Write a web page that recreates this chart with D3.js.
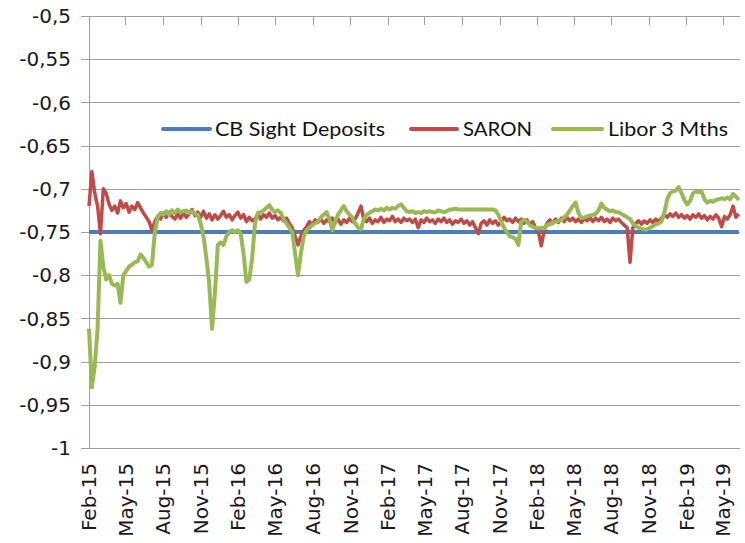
<!DOCTYPE html>
<html lang="en">
<head>
<meta charset="UTF-8">
<title>CHF money market rates</title>
<style>
    body { margin: 0; background: #fff; }
    .grid line { stroke: #a0a0a0; stroke-width: 1.3; shape-rendering: crispEdges; }
    .axis text { font: 20px "DejaVu Sans", sans-serif; fill: #1a1a1a; }
    .legend text { font: 20px Lato, sans-serif; fill: #111; }
    .series { fill: none; stroke-linejoin: round; }
</style>
</head>
<body>
<svg class="chart" width="745" height="543"></svg>
<script src="https://cdn.jsdelivr.net/npm/d3@7"></script>
<script>

// weekly observations, first one on this date
var firstWeek = "2015-02-01";

var xTickLabels = ["Feb-15", "May-15", "Aug-15", "Nov-15", "Feb-16", "May-16", "Aug-16", "Nov-16", "Feb-17",
    "May-17", "Aug-17", "Nov-17", "Feb-18", "May-18", "Aug-18", "Nov-18", "Feb-19", "May-19"];

var yTickLabels = ["-0,5", "-0,55", "-0,6", "-0,65", "-0,7", "-0,75", "-0,8", "-0,85", "-0,9", "-0,95", "-1"];

var seriesNames = ["CB Sight Deposits", "SARON", "Libor 3 Mths"];

// sight deposit rate is flat over the whole period
var sightDates = ["2015-02-01", "2019-06-09"];
var sightDeposits = [-0.75, -0.75];

var saron = [
    -0.72, -0.68, -0.705, -0.72, -0.752, -0.70, -0.705, -0.718, -0.725, -0.72, -0.728, -0.714, -0.722,
    -0.717, -0.727, -0.72, -0.724, -0.716, -0.722, -0.728, -0.733, -0.738, -0.748, -0.738, -0.732, -0.735,
    -0.728, -0.733, -0.727, -0.732, -0.735, -0.729, -0.734, -0.728, -0.733, -0.729, -0.724, -0.731, -0.727,
    -0.733, -0.726, -0.734, -0.729, -0.736, -0.73, -0.735, -0.731, -0.726, -0.733, -0.73, -0.736, -0.731,
    -0.727, -0.734, -0.73, -0.738, -0.733, -0.737, -0.735, -0.729, -0.735, -0.73, -0.733, -0.728, -0.734,
    -0.731, -0.736, -0.733, -0.737, -0.734, -0.74, -0.745, -0.755, -0.765, -0.755, -0.748, -0.744, -0.738,
    -0.742, -0.736, -0.739, -0.735, -0.74, -0.736, -0.738, -0.734, -0.739, -0.735, -0.741, -0.736, -0.739,
    -0.734, -0.738, -0.735, -0.728, -0.72, -0.735, -0.738, -0.734, -0.74, -0.736, -0.738, -0.733, -0.739,
    -0.735, -0.737, -0.732, -0.738, -0.735, -0.739, -0.734, -0.737, -0.735, -0.739, -0.735, -0.745, -0.736,
    -0.739, -0.734, -0.738, -0.736, -0.74, -0.735, -0.738, -0.734, -0.739, -0.736, -0.741, -0.737, -0.739,
    -0.735, -0.74, -0.737, -0.742, -0.738, -0.745, -0.752, -0.74, -0.737, -0.742, -0.736, -0.74, -0.737,
    -0.742, -0.738, -0.733, -0.737, -0.735, -0.739, -0.734, -0.738, -0.735, -0.74, -0.736, -0.741, -0.738,
    -0.745, -0.75, -0.766, -0.748, -0.74, -0.736, -0.74, -0.735, -0.739, -0.734, -0.738, -0.733, -0.737,
    -0.734, -0.738, -0.735, -0.739, -0.734, -0.737, -0.733, -0.738, -0.734, -0.737, -0.733, -0.738, -0.735,
    -0.739, -0.734, -0.737, -0.735, -0.739, -0.742, -0.745, -0.785, -0.745, -0.74, -0.737, -0.741, -0.737,
    -0.74, -0.736, -0.739, -0.735, -0.738, -0.734, -0.73, -0.733, -0.729, -0.732, -0.728, -0.733, -0.73,
    -0.734, -0.731, -0.735, -0.73, -0.733, -0.729, -0.734, -0.731, -0.736, -0.732, -0.735, -0.73, -0.734,
    -0.744, -0.732, -0.735, -0.73, -0.72, -0.733, -0.729
];

var libor3m = [
    -0.862, -0.93, -0.905, -0.862, -0.76, -0.79, -0.805, -0.80, -0.81, -0.812, -0.81, -0.832, -0.80,
    -0.795, -0.79, -0.788, -0.785, -0.784, -0.776, -0.78, -0.785, -0.79, -0.788, -0.75, -0.733, -0.728,
    -0.73, -0.726, -0.73, -0.725, -0.728, -0.724, -0.727, -0.726, -0.725, -0.728, -0.726, -0.729, -0.73,
    -0.74, -0.755, -0.78, -0.81, -0.862, -0.82, -0.765, -0.762, -0.765, -0.755, -0.75, -0.748, -0.75,
    -0.748, -0.752, -0.775, -0.808, -0.805, -0.78, -0.74, -0.728, -0.727, -0.725, -0.722, -0.719, -0.724,
    -0.727, -0.725, -0.728, -0.735, -0.74, -0.745, -0.75, -0.775, -0.80, -0.775, -0.755, -0.748, -0.745,
    -0.742, -0.74, -0.738, -0.733, -0.73, -0.727, -0.735, -0.748, -0.738, -0.73, -0.725, -0.72, -0.726,
    -0.73, -0.733, -0.74, -0.745, -0.747, -0.735, -0.73, -0.728, -0.726, -0.724, -0.725, -0.723, -0.725,
    -0.722, -0.724, -0.722, -0.723, -0.72, -0.718, -0.722, -0.726, -0.727, -0.726, -0.728, -0.727, -0.728,
    -0.726, -0.727, -0.726, -0.727, -0.727, -0.725, -0.726, -0.727, -0.726, -0.724, -0.724, -0.723, -0.724,
    -0.724, -0.724, -0.724, -0.724, -0.724, -0.724, -0.724, -0.724, -0.724, -0.724, -0.724, -0.724, -0.725,
    -0.73, -0.738, -0.745, -0.75, -0.755, -0.756, -0.758, -0.765, -0.738, -0.736, -0.738, -0.742, -0.744,
    -0.745, -0.746, -0.745, -0.746, -0.742, -0.741, -0.739, -0.738, -0.737, -0.736, -0.733, -0.73, -0.725,
    -0.72, -0.716, -0.728, -0.734, -0.733, -0.732, -0.731, -0.73, -0.729, -0.725, -0.717, -0.722, -0.724,
    -0.726, -0.725, -0.727, -0.727, -0.729, -0.731, -0.733, -0.735, -0.74, -0.743, -0.745, -0.746, -0.747,
    -0.747, -0.745, -0.743, -0.741, -0.74, -0.738, -0.728, -0.712, -0.705, -0.703, -0.702, -0.698, -0.705,
    -0.713, -0.718, -0.714, -0.705, -0.703, -0.704, -0.703, -0.712, -0.716, -0.714, -0.715, -0.713, -0.712,
    -0.711, -0.712, -0.71, -0.712, -0.706, -0.709, -0.713
];

var colors = ["#4a7ebb", "#be4b48", "#98b954"];

var plotLeft = 89, plotRight = 740, plotTop = 16, plotBottom = 448;

var parseDay = d3.timeParse("%Y-%m-%d"),
    parseTick = d3.timeParse("%b-%y");

var start = parseDay(firstWeek);
function weekly(values) {
    return values.map(function(v, i) { return { date: d3.timeDay.offset(start, 7 * i), value: v }; });
}

var series = [
    sightDates.map(function(d, i) { return { date: parseDay(d), value: sightDeposits[i] }; }),
    weekly(saron),
    weekly(libor3m)
];

var x = d3.scaleTime()
    .domain([parseDay("2015-02-01"), parseDay("2019-06-12")])
    .range([plotLeft, plotRight]);

var y = d3.scaleLinear()
    .domain([-1, -0.5])
    .range([plotBottom, plotTop]);

var yTicks = yTickLabels.map(function(s) { return +s.replace(",", "."); });
var xTicks = xTickLabels.map(function(s) { return parseTick(s); });

var svg = d3.select(".chart");

// horizontal grid, running 8px left of the axis like Excel's tick marks
var grid = svg.append("g").attr("class", "grid");
grid.selectAll("line.h")
    .data(yTicks)
    .enter().append("line")
    .attr("x1", plotLeft - 8)
    .attr("x2", plotRight)
    .attr("y1", function(d) { return Math.round(y(d)) + 0.5; })
    .attr("y2", function(d) { return Math.round(y(d)) + 0.5; });

// vertical axis line
grid.append("line")
    .attr("x1", plotLeft + 0.5).attr("x2", plotLeft + 0.5)
    .attr("y1", plotTop).attr("y2", plotBottom);

// the date axis sits at the top (-0,5) with tick marks pointing down
grid.selectAll("line.t")
    .data(xTicks.slice(1))
    .enter().append("line")
    .attr("x1", function(d) { return Math.round(x(d)) + 0.5; })
    .attr("x2", function(d) { return Math.round(x(d)) + 0.5; })
    .attr("y1", plotTop)
    .attr("y2", plotTop + 9);

// y labels
var yAxis = svg.append("g").attr("class", "axis");
yAxis.selectAll("text")
    .data(yTicks)
    .enter().append("text")
    .attr("x", 71)
    .attr("y", function(d) { return y(d); })
    .attr("dy", "0.36em")
    .attr("text-anchor", "end")
    .text(function(d, i) { return yTickLabels[i]; });

// date labels, written upwards, below the plot
var xAxis = svg.append("g").attr("class", "axis");
xAxis.selectAll("text")
    .data(xTicks)
    .enter().append("text")
    .attr("transform", function(d) { return "translate(" + x(d) + ",463) rotate(-90)"; })
    .attr("dy", "0.36em")
    .attr("text-anchor", "end")
    .text(function(d, i) { return xTickLabels[i]; });

var line = d3.line()
    .x(function(d) { return x(d.date); })
    .y(function(d) { return y(d.value); });

var widths = [4, 3.5, 4];
svg.append("g").selectAll("path")
    .data(series)
    .enter().append("path")
    .attr("class", "series")
    .attr("stroke", function(d, i) { return colors[i]; })
    .attr("stroke-width", function(d, i) { return widths[i]; })
    .attr("d", line);

// legend
var legendItems = [
    { x1: 163, x2: 210, tx: 215, len: 170 },
    { x1: 411, x2: 457, tx: 463, len: 69 },
    { x1: 553, x2: 602, tx: 608, len: 120 }
];
var legend = svg.append("g").attr("class", "legend");
var item = legend.selectAll("g")
    .data(legendItems)
    .enter().append("g");

item.append("line")
    .attr("x1", function(d) { return d.x1; })
    .attr("x2", function(d) { return d.x2; })
    .attr("y1", 129).attr("y2", 129)
    .attr("stroke", function(d, i) { return colors[i]; })
    .attr("stroke-width", 4)
    .attr("stroke-linecap", "round");

item.append("text")
    .attr("x", function(d) { return d.tx; })
    .attr("y", 129)
    .attr("dy", "0.36em")
    .attr("textLength", function(d) { return d.len; })
    .attr("lengthAdjust", "spacingAndGlyphs")
    .text(function(d, i) { return seriesNames[i]; });

</script>
</body>
</html>
